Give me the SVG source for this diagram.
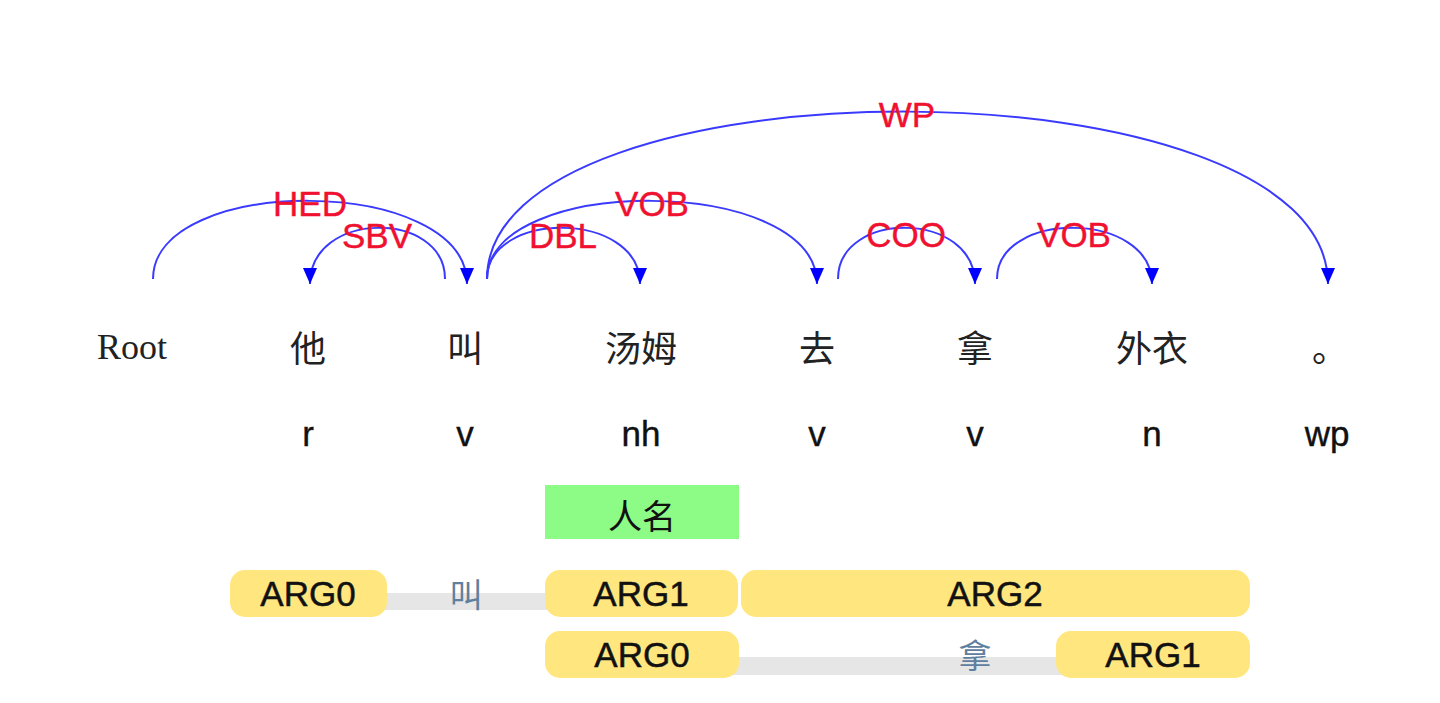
<svg xmlns="http://www.w3.org/2000/svg" width="1440" height="703" viewBox="0 0 1440 703">
<defs>
<marker id="ah" viewBox="0 0 16 14" refX="16" refY="7" markerWidth="16" markerHeight="14" markerUnits="userSpaceOnUse" orient="auto">
<path d="M0,0 L16,7 L0,14 z" fill="#0000ff"/>
</marker>
<style>
.arc{fill:none;stroke:#3a3aff;stroke-width:2;marker-end:url(#ah)}
.lbl{font-family:"Liberation Sans",Arial,sans-serif;font-size:35px;fill:#f01030;stroke:#f01030;stroke-width:0.4;text-anchor:middle}
.word{font-family:"Liberation Serif","Noto Sans CJK SC",serif;font-size:36px;fill:#222;text-anchor:middle}
.pos{font-family:"Liberation Sans",Arial,sans-serif;font-size:35px;fill:#111;stroke:#111;stroke-width:0.4;text-anchor:middle}
.arg{fill:#ffe67e}
.argt{font-family:"Liberation Sans",Arial,sans-serif;font-size:35px;fill:#111;stroke:#111;stroke-width:0.5;text-anchor:middle}
.bar{fill:#e6e6e6}
.pred{font-family:"Noto Sans CJK SC",sans-serif;font-size:33px;fill:#5f809e;text-anchor:middle}
.ner{fill:#8cfc86}
.nert{font-family:"Noto Sans CJK SC",sans-serif;font-size:34px;fill:#111;text-anchor:middle}
</style>
</defs>
<rect width="1440" height="703" fill="#ffffff"/>
<g id="connectors">
<path class="arc" d="M153,279 C153,174 467,174 467,284"/>
<path class="arc" d="M445,279 C445,210 310,210 310,284"/>
<path class="arc" d="M487,279 C487,210 640,210 640,284"/>
<path class="arc" d="M487,279 C487,174 817,174 817,284"/>
<path class="arc" d="M487,279 C487,55 1328,55 1328,284"/>
<path class="arc" d="M838,279 C838,210 975,210 975,284"/>
<path class="arc" d="M997,279 C997,210 1152,210 1152,284"/>
</g>
<g id="arc-labels">
<text class="lbl" x="310" y="216">HED</text>
<text class="lbl" x="377" y="248">SBV</text>
<text class="lbl" x="563" y="248">DBL</text>
<text class="lbl" x="652" y="216">VOB</text>
<text class="lbl" x="907" y="127">WP</text>
<text class="lbl" x="906" y="247">COO</text>
<text class="lbl" x="1074" y="247">VOB</text>
</g>
<g id="node-root"><text class="word" x="132" y="359">Root</text></g>
<g id="node-ta"><text class="word" x="308" y="362">他</text><text class="pos" x="308" y="446">r</text></g>
<g id="node-jiao"><text class="word" x="465" y="362">叫</text><text class="pos" x="465" y="446">v</text></g>
<g id="node-tangmu"><text class="word" x="641" y="362">汤姆</text><text class="pos" x="641" y="446">nh</text></g>
<g id="node-qu"><text class="word" x="817" y="362">去</text><text class="pos" x="817" y="446">v</text></g>
<g id="node-na"><text class="word" x="975" y="362">拿</text><text class="pos" x="975" y="446">v</text></g>
<g id="node-waiyi"><text class="word" x="1152" y="362">外衣</text><text class="pos" x="1152" y="446">n</text></g>
<g id="node-period"><text class="word" x="1330" y="362">。</text><text class="pos" x="1327" y="446">wp</text></g>
<g id="ner-renming">
<rect class="ner" x="545" y="485" width="194" height="54"/>
<text class="nert" x="642" y="529">人名</text>
</g>
<g id="srl-jiao">
<rect class="bar" x="380" y="593" width="172" height="17"/>
<text class="pred" x="466" y="607">叫</text>
<rect class="arg" x="230" y="570" width="157" height="47" rx="15"/>
<text class="argt" x="308" y="606">ARG0</text>
<rect class="arg" x="545" y="570" width="193" height="47" rx="15"/>
<text class="argt" x="641" y="606">ARG1</text>
<rect class="arg" x="741" y="570" width="509" height="47" rx="15"/>
<text class="argt" x="995" y="606">ARG2</text>
</g>
<g id="srl-na">
<rect class="bar" x="730" y="657" width="335" height="18"/>
<text class="pred" x="975" y="668">拿</text>
<rect class="arg" x="545" y="631" width="194" height="47" rx="15"/>
<text class="argt" x="642" y="667">ARG0</text>
<rect class="arg" x="1056" y="631" width="194" height="47" rx="15"/>
<text class="argt" x="1153" y="667">ARG1</text>
</g>
</svg>
